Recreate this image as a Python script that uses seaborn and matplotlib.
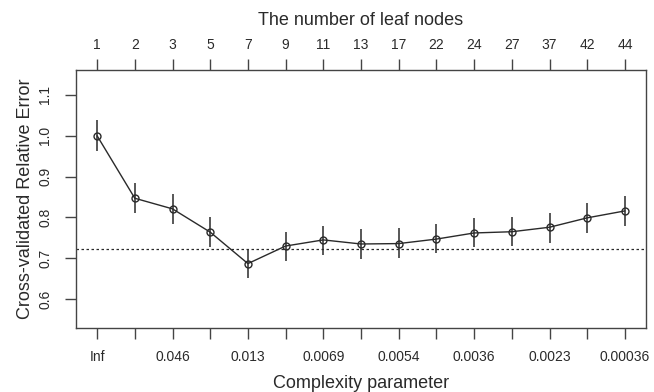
import numpy as np
import pandas as pd
import matplotlib
matplotlib.use("Agg")
import matplotlib.pyplot as plt
import seaborn as sns

# ---- data ----
leaf_nodes = ["1", "2", "3", "5", "7", "9", "11", "13", "17", "22", "24", "27", "37", "42", "44"]
cp_labels = ["Inf", "", "0.046", "", "0.013", "", "0.0069", "", "0.0054", "", "0.0036", "", "0.0023", "", "0.00036"]
xerror = [1.000, 0.847, 0.821, 0.764, 0.687, 0.730, 0.745, 0.735, 0.736, 0.747, 0.762, 0.765, 0.776, 0.799, 0.816]
err_hi = [1.039, 0.884, 0.857, 0.802, 0.720, 0.765, 0.779, 0.771, 0.775, 0.785, 0.799, 0.802, 0.812, 0.835, 0.853]
err_lo = [0.963, 0.810, 0.784, 0.728, 0.651, 0.693, 0.708, 0.698, 0.701, 0.712, 0.727, 0.730, 0.738, 0.762, 0.779]
threshold = 0.722
y_ticks = [0.6, 0.7, 0.8, 0.9, 1.0, 1.1]

sns.set_theme(style="white")
plt.rcParams['font.family'] = ['Liberation Sans', 'DejaVu Sans']

ink = "#2a2a2a"
fig = plt.figure(figsize=(6.54, 3.92), dpi=100)
ax = fig.add_axes([0.1162, 0.164, 0.8716, 0.6574])

pos = np.arange(1, len(xerror) + 1)
df = pd.DataFrame({"pos": pos, "xerror": xerror})

ax.vlines(pos, err_lo, err_hi, color=ink, lw=1.1, zorder=2)
sns.lineplot(data=df, x="pos", y="xerror", ax=ax, color=ink, lw=1.0,
             marker="o", markersize=5, markerfacecolor="none",
             markeredgecolor=ink, markeredgewidth=1.0, zorder=3)
ax.axhline(threshold, color=ink, lw=0.9, ls=(0, (2, 2)), zorder=1)

ax.set_xlim(0.44, 15.56)
ax.set_ylim(0.530, 1.161)

for s in ax.spines.values():
    s.set_color("#444444")
    s.set_linewidth(1.0)

ax.set_xticks(pos)
ax.set_xticklabels(cp_labels)
ax.set_yticks(y_ticks)
ax.set_yticklabels([f"{v:.1f}" for v in y_ticks], rotation=90, va="center")
ax.tick_params(axis="both", direction="out", length=8, width=1.0, color="#444444",
               labelsize=10, labelcolor=ink, bottom=True, left=True)
ax.tick_params(axis="x", pad=8)
ax.tick_params(axis="y", pad=9)

ax.set_xlabel("Complexity parameter", fontsize=13, color=ink, labelpad=8)
ax.set_ylabel("Cross-validated Relative Error", fontsize=13, color=ink, labelpad=3)

top = ax.twiny()
top.set_xlim(ax.get_xlim())
top.set_xticks(pos)
top.set_xticklabels(leaf_nodes)
top.tick_params(axis="x", direction="out", length=8, width=1.0, color="#444444",
                labelsize=10, labelcolor=ink, top=True, pad=5)
for s in top.spines.values():
    s.set_visible(False)
top.set_xlabel("The number of leaf nodes", fontsize=13, color=ink, labelpad=9)
top.grid(False)
ax.grid(False)

fig.savefig("out.png", dpi=100)
